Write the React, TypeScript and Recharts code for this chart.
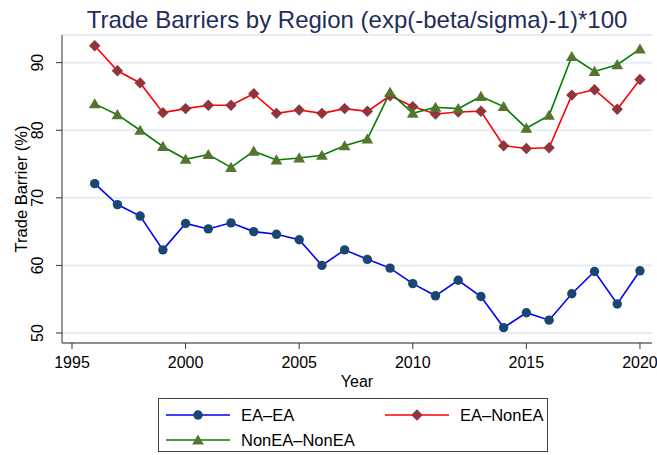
import React from 'react'
import { LineChart, Line, XAxis, YAxis, CartesianGrid, Legend } from 'recharts'

const years = [1996, 1997, 1998, 1999, 2000, 2001, 2002, 2003, 2004, 2005, 2006, 2007, 2008,
  2009, 2010, 2011, 2012, 2013, 2014, 2015, 2016, 2017, 2018, 2019, 2020]
const eaEa = [72.1, 69.0, 67.3, 62.3, 66.2, 65.4, 66.3, 65.0, 64.6, 63.8, 60.0, 62.3, 60.9,
  59.6, 57.3, 55.5, 57.8, 55.4, 50.8, 53.0, 51.9, 55.8, 59.1, 54.3, 59.2]
const eaNonEa = [92.5, 88.8, 87.0, 82.6, 83.2, 83.7, 83.7, 85.4, 82.5, 83.0, 82.5, 83.2, 82.8,
  85.1, 83.5, 82.4, 82.7, 82.8, 77.7, 77.3, 77.4, 85.2, 86.0, 83.1, 87.5]
const nonEaNonEa = [83.9, 82.3, 80.0, 77.6, 75.7, 76.4, 74.5, 76.9, 75.6, 75.9, 76.3, 77.7, 78.7,
  85.6, 82.5, 83.4, 83.2, 85.0, 83.5, 80.3, 82.2, 90.9, 88.7, 89.7, 92.0]
const xTicks = [1995, 2000, 2005, 2010, 2015, 2020]
const yTicks = [50, 60, 70, 80, 90]

const data = years.map((year, i) => ({ year, eaEa: eaEa[i], eaNonEa: eaNonEa[i], nonEaNonEa: nonEaNonEa[i] }))

const FONT = 'Arial, "Liberation Sans", sans-serif'

const Circle = (p: any) => <circle cx={p.cx} cy={p.cy} r={4.7} fill="#1a476f" />
const Diamond = (p: any) => {
  const s = 5.7
  return <path d={`M${p.cx},${p.cy - s}L${p.cx + s},${p.cy}L${p.cx},${p.cy + s}L${p.cx - s},${p.cy}Z`} fill="#90353b" />
}
const Triangle = (p: any) => {
  const s = 5.6
  return <path d={`M${p.cx},${p.cy - s}L${p.cx + s * 1.05},${p.cy + s * 0.8}L${p.cx - s * 1.05},${p.cy + s * 0.8}Z`} fill="#55752f" />
}

const series = [
  { key: 'eaEa', name: 'EA\u2013EA', stroke: '#0000ff', Dot: Circle },
  { key: 'eaNonEa', name: 'EA\u2013NonEA', stroke: '#ff0000', Dot: Diamond },
  { key: 'nonEaNonEa', name: 'NonEA\u2013NonEA', stroke: '#008000', Dot: Triangle },
]

const YTick = ({ x, y, payload }: any) => (
  <text x={x - 11} y={y} transform={`rotate(-90 ${x - 11} ${y})`} textAnchor="middle" fontSize={16}
    fontFamily={FONT} fill="#000">{payload.value}</text>
)

const XTick = ({ x, y, payload }: any) => (
  <text x={x} y={y + 17} textAnchor="middle" fontSize={16} fontFamily={FONT} fill="#000">{payload.value}</text>
)

const YLabel = ({ viewBox }: any) => {
  const cx = 21
  const cy = viewBox.y + viewBox.height / 2
  return (
    <text x={cx} y={cy} transform={`rotate(-90 ${cx} ${cy})`} textAnchor="middle" dominantBaseline="central"
      fontSize={16.5} fontFamily={FONT} fill="#000">Trade Barrier (%)</text>
  )
}

const XLabel = ({ viewBox }: any) => (
  <text x={viewBox.x + viewBox.width / 2} y={387} textAnchor="middle" fontSize={16} fontFamily={FONT} fill="#000">Year</text>
)

const legendPos = [
  { left: 7, top: 16 },
  { left: 226, top: 16 },
  { left: 7, top: 41 },
]

const renderLegend = () => (
  <div style={{ marginLeft: 158, width: 390, height: 54, border: '1px solid #404040', boxSizing: 'border-box',
    position: 'relative', fontFamily: FONT, fontSize: 16.5, background: '#fff' }}>
    {series.map((s, i) => {
      const { Dot } = s
      const pos = legendPos[i]
      return (
        <div key={s.key} style={{ position: 'absolute', left: pos.left, top: pos.top - 10, height: 20, display: 'flex', alignItems: 'center' }}>
          <svg width={64} height={20}>
            <line x1={0} y1={10} x2={64} y2={10} stroke={s.stroke} strokeWidth={1.6} />
            <Dot cx={32} cy={10} />
          </svg>
          <span style={{ marginLeft: 11, whiteSpace: 'nowrap' }}>{s.name}</span>
        </div>
      )
    })}
  </div>
)

export default function App() {
  return (
    <div style={{ position: 'absolute', left: 0, top: 0, width: 657, height: 455, background: '#fff' }}>
      <div style={{ position: 'absolute', left: 62, width: 590, top: 6, textAlign: 'center', fontFamily: FONT,
        fontSize: 24, color: '#1e2d5c', whiteSpace: 'nowrap' }}>
        Trade Barriers by Region (exp(-beta/sigma)-1)*100
      </div>
      <LineChart width={657} height={455} data={data} margin={{ top: 35, right: 5, left: 0, bottom: 3 }}>
        <CartesianGrid horizontal vertical={false} stroke="#e6edf2" strokeWidth={2} />
        <XAxis dataKey="year" type="number" domain={[1994.56, 2020.53]} ticks={xTicks} allowDataOverflow
          height={55} tick={<XTick />} tickSize={6} stroke="#333" interval={0} label={<XLabel />} />
        <YAxis domain={[48.52, 94.09]} ticks={yTicks} allowDataOverflow width={62} tick={<YTick />} tickSize={6}
          stroke="#333" interval={0} label={<YLabel />} />
        <Legend verticalAlign="bottom" content={renderLegend} wrapperStyle={{ left: 0, width: 657 }} />
        {series.map(s => (
          <Line key={s.key} dataKey={s.key} name={s.name} stroke={s.stroke} strokeWidth={1.6} type="linear"
            dot={(p: any) => <s.Dot key={p.index} cx={p.cx} cy={p.cy} />} activeDot={false} isAnimationActive={false} />
        ))}
      </LineChart>
    </div>
  )
}
